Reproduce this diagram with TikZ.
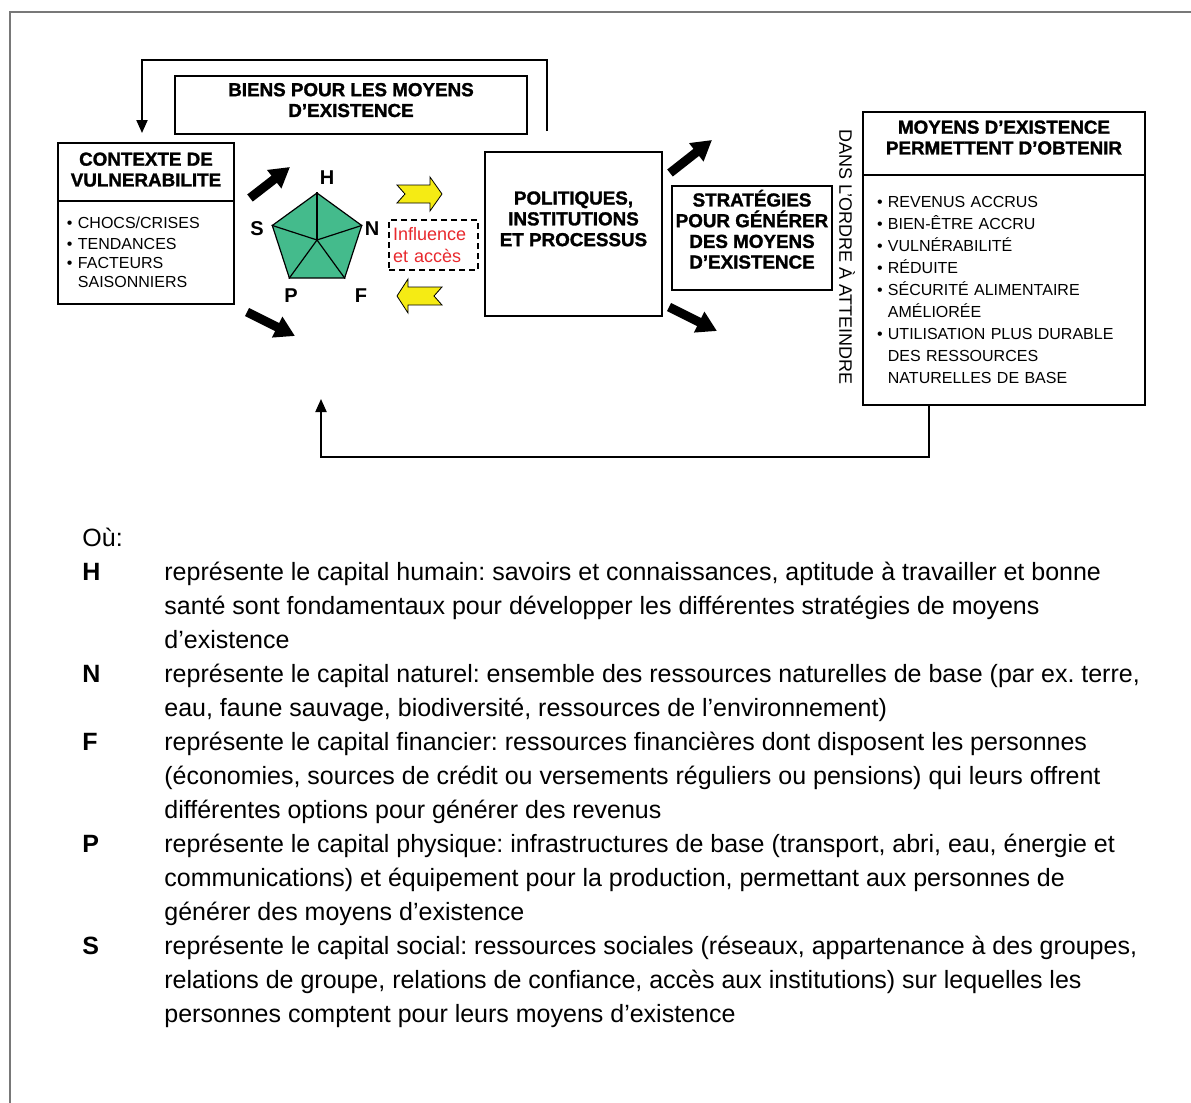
\documentclass[tikz,border=0pt]{standalone}
\usepackage{fontspec}
\setmainfont{Liberation Sans}
\newfontfamily\blackfont{Liberation Sans}[BoldFeatures={FakeBold=1.5}]
\usetikzlibrary{positioning,shapes.geometric,arrows.meta}
\definecolor{capgreen}{RGB}{68,187,140}
\definecolor{flowyellow}{RGB}{245,235,20}
\definecolor{accessred}{RGB}{232,40,45}
\definecolor{framegray}{RGB}{120,120,120}

\begin{document}
\begin{tikzpicture}[x=0.5pt,y=-0.5pt,
  box/.style={draw,line width=0.7pt,inner sep=0pt,outer sep=0pt,align=center},
  headtext/.style={inner sep=0pt,align=center,font=\blackfont\bfseries\fontsize{9.4}{10.4}\selectfont},
  headbox/.style={box,headtext,text depth=4pt},
  listbox/.style={draw,line width=0.7pt,inner ysep=0pt,outer sep=0pt,align=left,font=\fontsize{8}{11}\selectfont},
  bigarrow/.style={line width=4.5pt,-{Triangle[length=10pt,width=11pt]}},
  feedback/.style={line width=1pt,-{Triangle[length=6.5pt,width=5.5pt]}},
  caplabel/.style={inner sep=0pt,font=\bfseries\fontsize{10}{12}\selectfont},
  flow/.style={fill=flowyellow,draw=black,line width=0.4pt}
]
\useasboundingbox (0,0) rectangle (1191,1103);
\draw[framegray,line width=0.6pt] (10,1103) |- (1191,12);

\node[headbox,minimum width=88pt,minimum height=29pt,text depth=2.5pt] (ctx) at (146,172) {CONTEXTE DE\\VULNERABILITE};
\node[listbox,text width=79pt,inner xsep=4.5pt,minimum height=51.5pt,below=0pt of ctx,
  font=\fontsize{8}{9.5}\selectfont] (ctxlist)
  {\textbullet\ CHOCS/CRISES\\[1pt] \textbullet\ TENDANCES\\ \textbullet\ FACTEURS\\ \phantom{\textbullet\ }SAISONNIERS};

\node[headbox,minimum width=176pt,minimum height=29pt,text depth=5pt] (biens) at (351,105) {BIENS POUR LES MOYENS\\D’EXISTENCE};

\node[box,minimum width=88.5pt,minimum height=82pt] (pol) at (573.5,234) {};
\node[headtext,below=19.5pt of pol.north] (poltext) {POLITIQUES,\\INSTITUTIONS\\ET PROCESSUS};

\node[box,minimum width=80pt,minimum height=52pt] (strat) at (752,238) {};
\node[headtext,below=1.7pt of strat.north,font=\blackfont\bfseries\fontsize{9.4}{10.35}\selectfont] (strattext)
  {STRATÉGIES\\POUR GÉNÉRER\\DES MOYENS\\D’EXISTENCE};

\node[headbox,minimum width=141pt,minimum height=31.5pt,text depth=6pt] (moy) at (1004,143.5) {MOYENS D’EXISTENCE\\PERMETTENT D’OBTENIR};
\node[listbox,text width=127pt,inner xsep=7pt,minimum height=115pt,below=0pt of moy] (moylist)
  {\textbullet\ REVENUS ACCRUS\\ \textbullet\ BIEN-ÊTRE ACCRU\\ \textbullet\ VULNÉRABILITÉ\\ \textbullet\ RÉDUITE\\
   \textbullet\ SÉCURITÉ ALIMENTAIRE\\ \phantom{\textbullet\ }AMÉLIORÉE\\ \textbullet\ UTILISATION PLUS DURABLE\\
   \phantom{\textbullet\ }DES RESSOURCES\\ \phantom{\textbullet\ }NATURELLES DE BASE};

\node[rotate=-90,inner sep=0pt,font=\fontsize{9}{10}\selectfont] (goal) at (847,257) {DANS L’ORDRE À ATTEINDRE};

\node[regular polygon,regular polygon sides=5,draw,fill=capgreen,minimum size=47pt,inner sep=0pt,line width=0.6pt] (pent) at (317,240) {};
\foreach \k in {1,...,5}
  \draw[line width=0.6pt] (pent.center) -- (pent.corner \k);
\node[caplabel] (capH) at (327,178) {H};
\node[caplabel] (capS) at (257,229) {S};
\node[caplabel] (capN) at (372,229) {N};
\node[caplabel] (capP) at (291,296) {P};
\node[caplabel] (capF) at (361,296) {F};

\filldraw[flow] (397,185) -- (430,185) -- (430,177) -- (442,194) -- (430,211) -- (430,203) -- (397,203) -- (405,194) -- cycle;
\filldraw[flow] (397,296) -- (408,279) -- (408,287) -- (442,287) -- (434,296) -- (442,305) -- (408,305) -- (408,313) -- cycle;

\node[draw,line width=0.6pt,dash pattern=on 3pt off 2pt,text width=40.5pt,inner xsep=2pt,inner ysep=0pt,
  minimum height=25pt,align=left,text=accessred,font=\fontsize{9}{11}\selectfont] (access) at (433.5,245)
  {Influence\\et accès};

\coordinate (ctxup) at (250,198);
\coordinate (ctxuptip) at (290,167);
\coordinate (ctxdown) at (247,312);
\coordinate (ctxdowntip) at (295,336);
\coordinate (polup) at (670,173);
\coordinate (poluptip) at (712,140);
\coordinate (poldown) at (669,307);
\coordinate (poldowntip) at (717,331);
\draw[bigarrow] (ctxup) -- (ctxuptip);
\draw[bigarrow] (ctxdown) -- (ctxdowntip);
\draw[bigarrow] (polup) -- (poluptip);
\draw[bigarrow] (poldown) -- (poldowntip);

\coordinate (fbtop) at (547,131);
\coordinate (fbend) at (321,399);
\draw[feedback] (fbtop) -- ++(0,-71) -| ([xshift=-2pt,yshift=5pt]ctx.north);
\draw[feedback] ([xshift=-37.5pt]moylist.south) -- ++(0,52) -| (fbend);

\node[anchor=north west,inner sep=0pt,font=\fontsize{12.5}{17}\selectfont\frenchspacing] (legend) at (82,522) {%
\begin{tabular}{@{}p{41pt}@{}l@{}}
Où: & \\
\textbf{H} & représente le capital humain: savoirs et connaissances, aptitude à travailler et bonne\\
 & santé sont fondamentaux pour développer les différentes stratégies de moyens\\
 & d’existence\\
\textbf{N} & représente le capital naturel: ensemble des ressources naturelles de base (par ex. terre,\\
 & eau, faune sauvage, biodiversité, ressources de l’environnement)\\
\textbf{F} & représente le capital financier: ressources financières dont disposent les personnes\\
 & (économies, sources de crédit ou versements réguliers ou pensions) qui leurs offrent\\
 & différentes options pour générer des revenus\\
\textbf{P} & représente le capital physique: infrastructures de base (transport, abri, eau, énergie et\\
 & communications) et équipement pour la production, permettant aux personnes de\\
 & générer des moyens d’existence\\
\textbf{S} & représente le capital social: ressources sociales (réseaux, appartenance à des groupes,\\
 & relations de groupe, relations de confiance, accès aux institutions) sur lequelles les\\
 & personnes comptent pour leurs moyens d’existence
\end{tabular}};
\end{tikzpicture}
\end{document}
